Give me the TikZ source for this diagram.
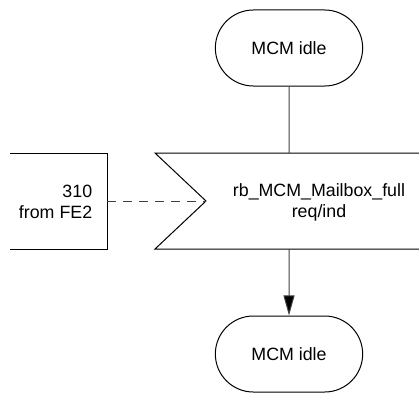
\documentclass[tikz,border=0pt]{standalone}
\usepackage{fontspec}
\setmainfont{Liberation Sans}
\usetikzlibrary{shapes.misc,arrows.meta}

\tikzset{etat/.style = {rounded rectangle, draw, minimum width=154pt, minimum height=76pt,
                        font=\fontsize{17.8}{21.2}\selectfont},
         texte/.style = {align=center, font=\fontsize{17.8}{21.2}\selectfont},
         lien/.style = {draw=black!75, line width=1pt},
         fleche/.style = {lien, -{Triangle[length=20pt,width=11pt,fill=black]}},
         pointille/.style = {lien, dash pattern=on 9pt off 7pt}
        }

\begin{document}
\begin{tikzpicture}[x=1pt, y=1pt, line width=1pt]
  \useasboundingbox (0,0) rectangle (419,392);
  \clip (0,0) rectangle (419,392);
  \node[etat] (idle1) at (289,344) {MCM idle};
  \node[etat] (idle2) at (289,38) {MCM idle};
  \coordinate (sighaut) at (289,239);
  \coordinate (sigbas) at (289,143);
  \coordinate (encoche) at (206,191);
  \coordinate (boite) at (107,191);
  \draw (440,239) -- (155,239) -- (encoche) -- (155,143) -- (440,143);
  \draw (10,239) -- (107,239) -- (107,143) -- (10,143);
  \node[texte] (signal) at (319,190) {rb\_MCM\_Mailbox\_full\\req/ind};
  \node[texte, align=right, anchor=east] (source) at (96,190) {310\\from FE2};
  \draw[lien] (idle1) -- (sighaut);
  \draw[fleche] (sigbas) -- (idle2);
  \draw[pointille] (boite) -- (encoche);
\end{tikzpicture}
\end{document}
